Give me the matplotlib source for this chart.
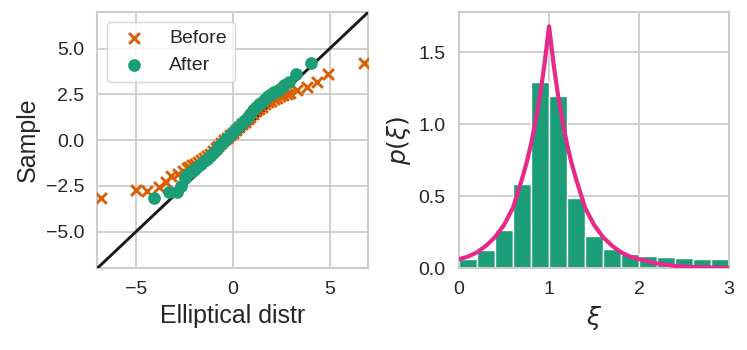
import matplotlib
matplotlib.use("Agg")
import matplotlib.pyplot as plt
import seaborn as sns

# ---------------- data ----------------
# QQ plot (left)
before_x = [-6.8, -4.99, -4.44, -3.82, -3.47, -3.18, -2.83, -2.6, -2.4, -2.25, -2.1, -1.95,
            -1.8, -1.65, -1.5, -1.35, -1.2, -1.05, -0.9, -0.75, -0.6, -0.45, -0.3, -0.15,
            0.0, 0.15, 0.3, 0.45, 0.6, 0.75, 0.9, 1.05, 1.2, 1.35, 1.5, 1.65, 1.8, 1.95,
            2.1, 2.25, 2.44, 2.6, 2.78, 2.95, 3.3, 3.82, 4.34, 4.89, 6.75]
before_y = [-3.18, -2.75, -2.78, -2.57, -2.29, -1.99, -1.86, -1.7, -1.55, -1.47, -1.38, -1.3,
            -1.2, -1.1, -0.98, -0.86, -0.74, -0.6, -0.46, -0.32, -0.17, -0.02, 0.12, 0.26,
            0.4, 0.55, 0.7, 0.85, 0.99, 1.13, 1.28, 1.42, 1.56, 1.7, 1.83, 1.95, 2.05, 2.14,
            2.22, 2.3, 2.4, 2.47, 2.54, 2.56, 2.71, 2.89, 3.16, 3.6, 4.22]
after_x = [-4.09, -3.3, -2.89, -2.66, -2.49, -2.4, -2.25, -2.1, -1.95, -1.8, -1.65, -1.5,
           -1.35, -1.2, -1.05, -0.9, -0.75, -0.6, -0.45, -0.3, -0.15, 0.0, 0.15, 0.3, 0.45,
           0.6, 0.75, 0.9, 1.05, 1.2, 1.35, 1.5, 1.65, 1.8, 1.95, 2.1, 2.25, 2.44, 2.61,
           2.87, 3.26, 4.02]
after_y = [-3.17, -2.82, -2.82, -2.52, -2.07, -1.9, -1.78, -1.68, -1.56, -1.44, -1.31, -1.17,
           -1.03, -0.88, -0.72, -0.56, -0.39, -0.22, -0.05, 0.1, 0.27, 0.43, 0.6, 0.77, 0.94,
           1.1, 1.27, 1.44, 1.62, 1.8, 1.95, 2.1, 2.25, 2.4, 2.5, 2.6, 2.7, 2.8, 2.98,
           3.16, 3.6, 4.22]
ref_line = [-7, 7]

# Histogram (right)
bin_edges = [0.0, 0.2, 0.4, 0.6, 0.8, 1.0, 1.2, 1.4, 1.6, 1.8, 2.0, 2.2, 2.4, 2.6, 2.8, 3.0]
bin_heights = [0.066, 0.125, 0.262, 0.584, 1.29, 1.198, 0.487, 0.223, 0.135, 0.099,
               0.085, 0.076, 0.069, 0.066, 0.063]
curve_x = [0.0, 0.1, 0.2, 0.3, 0.4, 0.5, 0.55, 0.6, 0.65, 0.7, 0.75, 0.8, 0.85, 0.9, 0.95,
           1.0, 1.05, 1.1, 1.15, 1.2, 1.25, 1.3, 1.35, 1.4, 1.45, 1.5, 1.6, 1.7, 1.8, 1.9,
           2.0, 2.2, 2.4, 2.6, 2.8, 3.0]
curve_y = [0.062, 0.08, 0.11, 0.155, 0.215, 0.30, 0.36, 0.42, 0.52, 0.62, 0.73, 0.86, 1.02,
           1.2, 1.42, 1.68, 1.42, 1.2, 1.02, 0.86, 0.73, 0.62, 0.52, 0.42, 0.36, 0.30, 0.215,
           0.155, 0.11, 0.08, 0.062, 0.032, 0.016, 0.008, 0.004, 0.002]

# ---------------- style ----------------
sns.set_theme(style="whitegrid")
plt.rcParams["font.family"] = ["Liberation Sans", "DejaVu Sans"]
plt.rcParams["mathtext.fontset"] = "dejavusans"
plt.rcParams["axes.edgecolor"] = "#cccccc"
plt.rcParams["grid.color"] = "#cccccc"

orange = "#d95f02"
green = "#1b9e77"
pink = "#e7298a"
tick_fs = 14
label_fs = 18

fig = plt.figure(figsize=(7.47, 3.5), dpi=100)
ax1 = fig.add_axes([0.1305, 0.234, 0.3628, 0.732])
ax2 = fig.add_axes([0.6145, 0.234, 0.3615, 0.732])

# left: QQ plot
ax1.plot(ref_line, ref_line, color="#1a1a1a", lw=2.1, zorder=3)
ax1.scatter(before_x, before_y, marker="x", color=orange, s=60, linewidths=2.1,
            label="Before", zorder=4)
ax1.scatter(after_x, after_y, marker="o", color=green, s=66, label="After", zorder=5)
ax1.set_xlim(-7, 7)
ax1.set_ylim(-7, 7)
ax1.set_xticks([-5, 0, 5])
ax1.set_yticks([-5, -2.5, 0, 2.5, 5])
ax1.set_yticklabels(["\u22125.0", "\u22122.5", "0.0", "2.5", "5.0"])
ax1.set_xticklabels(["\u22125", "0", "5"])
ax1.tick_params(labelsize=tick_fs, colors="#262626")
ax1.set_xlabel("Elliptical distr", fontsize=label_fs, color="#262626")
ax1.set_ylabel("Sample", fontsize=label_fs, color="#262626")
leg = ax1.legend(loc="upper left", fontsize=tick_fs, frameon=True,
                 handletextpad=0.8, borderaxespad=0.5, borderpad=0.4)
leg.get_frame().set_edgecolor("#cccccc")

# right: histogram with pdf
widths = [bin_edges[i + 1] - bin_edges[i] for i in range(len(bin_heights))]
ax2.bar(bin_edges[:-1], bin_heights, width=widths, align="edge", color=green,
        edgecolor="white", linewidth=1, zorder=2)
ax2.plot(curve_x, curve_y, color=pink, lw=3, zorder=3)
ax2.set_xlim(0, 3)
ax2.set_ylim(0, 1.78)
ax2.set_xticks([0, 1, 2, 3])
ax2.set_yticks([0, 0.5, 1.0, 1.5])
ax2.set_yticklabels(["0.0", "0.5", "1.0", "1.5"])
ax2.tick_params(labelsize=tick_fs, colors="#262626")
ax2.set_xlabel(r"$\xi$", fontsize=label_fs, color="#262626")
ax2.set_ylabel(r"$p(\xi)$", fontsize=label_fs, color="#262626")

for ax in (ax1, ax2):
    for sp in ax.spines.values():
        sp.set_linewidth(1.5)
        sp.set_color("#cccccc")
    ax.grid(True, color="#cccccc", lw=1.3)
    ax.set_axisbelow(True)

fig.savefig("out.png", dpi=100)
